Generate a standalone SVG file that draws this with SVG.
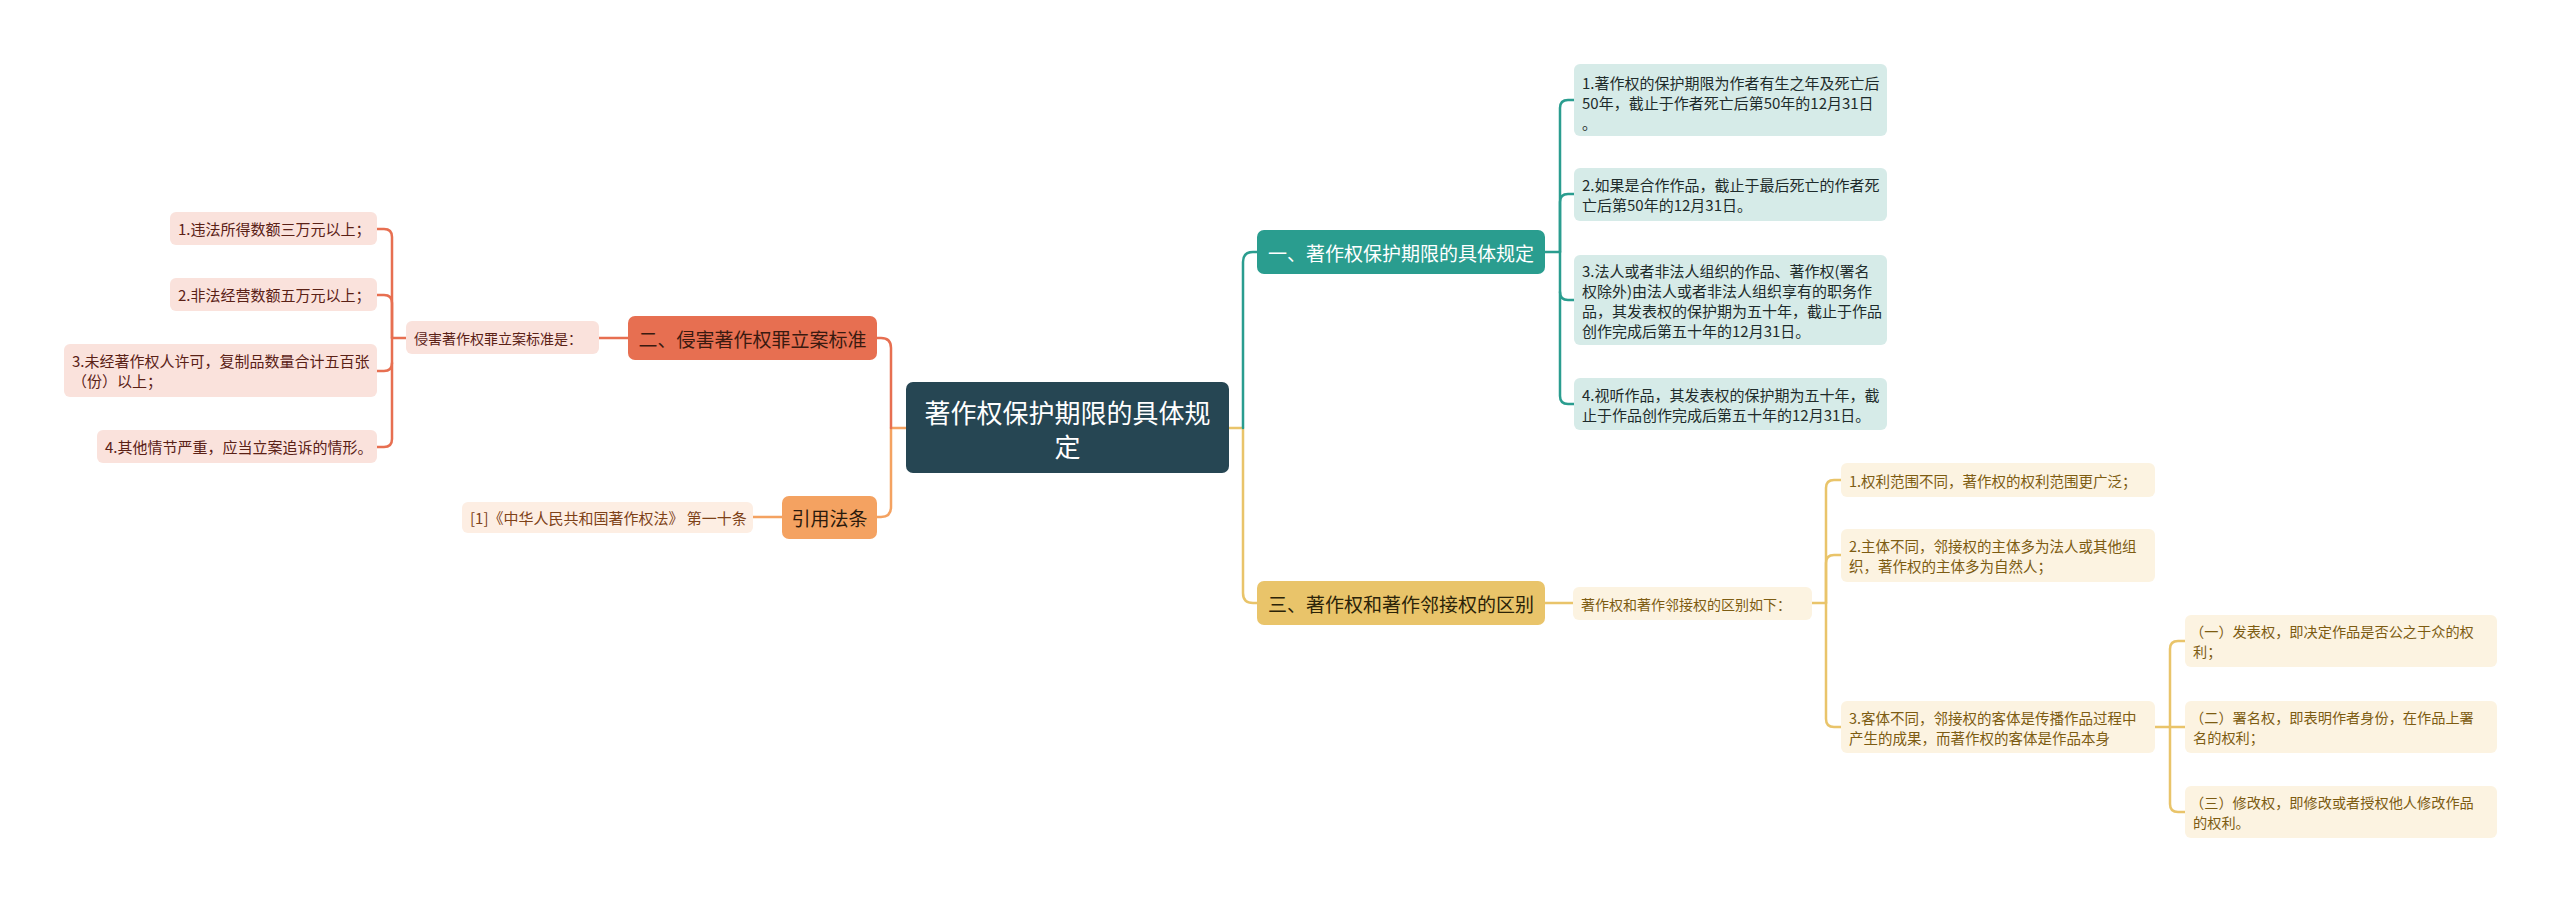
<svg xmlns="http://www.w3.org/2000/svg" width="2560" height="903" viewBox="0 0 2560 903">
<style>
text{font-family:"Noto Sans CJK SC","Noto Sans",sans-serif;dominant-baseline:central}
.c{fill:none;stroke-width:2.5;stroke-linecap:round;stroke-linejoin:round}
.ct{stroke:#2a9d8f}.cy{stroke:#e9c46a}.cr{stroke:#e76f51}.co{stroke:#f4a261}
.root{fill:#264653}
.bt{fill:#2a9d8f}.by{fill:#e9c46a}.br{fill:#e76f51}.bo{fill:#f4a261}
.lt{fill:#d6ebe8}.ly{fill:#fcf3e1}.lr{fill:#fae2dc}.lo{fill:#fdeee3}
.t-root{font-size:26px;fill:#ffffff;text-anchor:middle}
.t-b{font-size:19px;text-anchor:middle}
.t-c{font-size:15px}
.t-s{font-size:14px}
.tt{fill:#1e2b2b}.ty{fill:#7d5c12}.tr{fill:#5a2116}.to{fill:#7e4218}
</style>
<g id="connectors">
<path class="c cy" d="M1229 428 H1243 V593 Q1243 603 1253 603 H1257"/>
<path class="c ct" d="M1243 428 V262 Q1243 252 1253 252 H1257"/>
<path class="c co" d="M906 428 H891 V507 Q891 517 881 517 H877"/>
<path class="c cr" d="M891 428 V348 Q891 338 881 338 H877"/>
<path class="c ct" d="M1545 252 H1560 V108 Q1560 100 1568 100 H1574"/>
<path class="c ct" d="M1560 252 V202 Q1560 194 1568 194 H1574"/>
<path class="c ct" d="M1560 252 V292 Q1560 300 1568 300 H1574"/>
<path class="c ct" d="M1560 292 V396 Q1560 404 1568 404 H1574"/>
<path class="c cy" d="M1545 603 H1573"/>
<path class="c cy" d="M1812 603 H1826 V488 Q1826 480 1834 480 H1841"/>
<path class="c cy" d="M1826 603 V563 Q1826 555 1834 555 H1841"/>
<path class="c cy" d="M1826 603 V719 Q1826 727 1834 727 H1841"/>
<path class="c cy" d="M2155 727 H2170 V649 Q2170 641 2178 641 H2185"/>
<path class="c cy" d="M2170 727 H2185"/>
<path class="c cy" d="M2170 727 V804 Q2170 812 2178 812 H2185"/>
<path class="c cr" d="M628 338 H599"/>
<path class="c cr" d="M406 338 H392 V237 Q392 229 384 229 H377"/>
<path class="c cr" d="M392 338 V303 Q392 295 384 295 H377"/>
<path class="c cr" d="M392 338 V363 Q392 371 384 371 H377"/>
<path class="c cr" d="M392 363 V439 Q392 447 384 447 H377"/>
<path class="c co" d="M782 517 H753"/>
</g>
<g id="root">
<rect class="root" x="906" y="382" width="323" height="91" rx="7"/>
<text class="t-root" x="1067.5" y="411">著作权保护期限的具体规</text>
<text class="t-root" x="1067.5" y="445">定</text>
</g>
<g id="b1">
<rect class="bt" x="1257" y="230" width="288" height="44" rx="7"/>
<text class="t-b" x="1401" y="252" fill="#ffffff">一、著作权保护期限的具体规定</text>
</g>
<g id="b1c1">
<rect class="lt" x="1574" y="64" width="313" height="72" rx="6"/>
<text class="t-c tt" x="1582" y="82">1.著作权的保护期限为作者有生之年及死亡后</text>
<text class="t-c tt" x="1582" y="102">50年，截止于作者死亡后第50年的12月31日</text>
<text class="t-c tt" x="1582" y="122">。</text>
</g>
<g id="b1c2">
<rect class="lt" x="1574" y="168" width="313" height="53" rx="6"/>
<text class="t-c tt" x="1582" y="184.5">2.如果是合作作品，截止于最后死亡的作者死</text>
<text class="t-c tt" x="1582" y="204.5">亡后第50年的12月31日。</text>
</g>
<g id="b1c3">
<rect class="lt" x="1574" y="255" width="313" height="90" rx="6"/>
<text class="t-c tt" x="1582" y="270">3.法人或者非法人组织的作品、著作权(署名</text>
<text class="t-c tt" x="1582" y="290">权除外)由法人或者非法人组织享有的职务作</text>
<text class="t-c tt" x="1582" y="310">品，其发表权的保护期为五十年，截止于作品</text>
<text class="t-c tt" x="1582" y="330">创作完成后第五十年的12月31日。</text>
</g>
<g id="b1c4">
<rect class="lt" x="1574" y="378" width="313" height="52" rx="6"/>
<text class="t-c tt" x="1582" y="394">4.视听作品，其发表权的保护期为五十年，截</text>
<text class="t-c tt" x="1582" y="414">止于作品创作完成后第五十年的12月31日。</text>
</g>
<g id="b3">
<rect class="by" x="1257" y="581" width="288" height="44" rx="7"/>
<text class="t-b" x="1401" y="603" fill="#2b2308">三、著作权和著作邻接权的区别</text>
</g>
<g id="b3s">
<rect class="ly" x="1573" y="587" width="239" height="33" rx="6"/>
<text class="t-s ty" x="1581" y="603.5">著作权和著作邻接权的区别如下：</text>
</g>
<g id="b3c1">
<rect class="ly" x="1841" y="463" width="314" height="34" rx="6"/>
<text class="t-c ty" x="1849" y="480" style="font-size:14.5px">1.权利范围不同，著作权的权利范围更广泛；</text>
</g>
<g id="b3c2">
<rect class="ly" x="1841" y="529" width="314" height="53" rx="6"/>
<text class="t-c ty" x="1849" y="545.5" style="font-size:14.5px">2.主体不同，邻接权的主体多为法人或其他组</text>
<text class="t-c ty" x="1849" y="565.5" style="font-size:14.5px">织，著作权的主体多为自然人；</text>
</g>
<g id="b3c3">
<rect class="ly" x="1841" y="701" width="314" height="52" rx="6"/>
<text class="t-c ty" x="1849" y="717" style="font-size:14.5px">3.客体不同，邻接权的客体是传播作品过程中</text>
<text class="t-c ty" x="1849" y="737" style="font-size:14.5px">产生的成果，而著作权的客体是作品本身</text>
</g>
<g id="b3g1">
<rect class="ly" x="2185" y="615" width="312" height="52" rx="6"/>
<text class="t-c ty" x="2190" y="631" style="font-size:14.2px">（一）发表权，即决定作品是否公之于众的权</text>
<text class="t-c ty" x="2193" y="651" style="font-size:14.2px">利；</text>
</g>
<g id="b3g2">
<rect class="ly" x="2185" y="701" width="312" height="52" rx="6"/>
<text class="t-c ty" x="2190" y="717" style="font-size:14.2px">（二）署名权，即表明作者身份，在作品上署</text>
<text class="t-c ty" x="2193" y="737" style="font-size:14.2px">名的权利；</text>
</g>
<g id="b3g3">
<rect class="ly" x="2185" y="786" width="312" height="52" rx="6"/>
<text class="t-c ty" x="2190" y="802" style="font-size:14.2px">（三）修改权，即修改或者授权他人修改作品</text>
<text class="t-c ty" x="2193" y="822" style="font-size:14.2px">的权利。</text>
</g>
<g id="b2">
<rect class="br" x="628" y="316" width="249" height="44" rx="7"/>
<text class="t-b" x="752.5" y="338" fill="#3a1a10">二、侵害著作权罪立案标准</text>
</g>
<g id="b2s">
<rect class="lr" x="406" y="321" width="193" height="33" rx="6"/>
<text class="t-s tr" x="414" y="337.5">侵害著作权罪立案标准是：</text>
</g>
<g id="b2c1">
<rect class="lr" x="170" y="212" width="207" height="33" rx="6"/>
<text class="t-c tr" x="178" y="228.5">1.违法所得数额三万元以上；</text>
</g>
<g id="b2c2">
<rect class="lr" x="170" y="278" width="207" height="33" rx="6"/>
<text class="t-c tr" x="178" y="294.5">2.非法经营数额五万元以上；</text>
</g>
<g id="b2c3">
<rect class="lr" x="64" y="344" width="313" height="53" rx="6"/>
<text class="t-c tr" x="72" y="360.5">3.未经著作权人许可，复制品数量合计五百张</text>
<text class="t-c tr" x="72" y="380.5">（份）以上；</text>
</g>
<g id="b2c4">
<rect class="lr" x="97" y="430" width="280" height="33" rx="6"/>
<text class="t-c tr" x="105" y="446.5">4.其他情节严重，应当立案追诉的情形。</text>
</g>
<g id="b4">
<rect class="bo" x="782" y="496" width="95" height="43" rx="7"/>
<text class="t-b" x="829.5" y="517.5" fill="#2b1a0c">引用法条</text>
</g>
<g id="b4s">
<rect class="lo" x="462" y="502" width="291" height="31" rx="6"/>
<text class="t-c to" x="470" y="517.5">[1]《中华人民共和国著作权法》 第一十条</text>
</g>
</svg>
